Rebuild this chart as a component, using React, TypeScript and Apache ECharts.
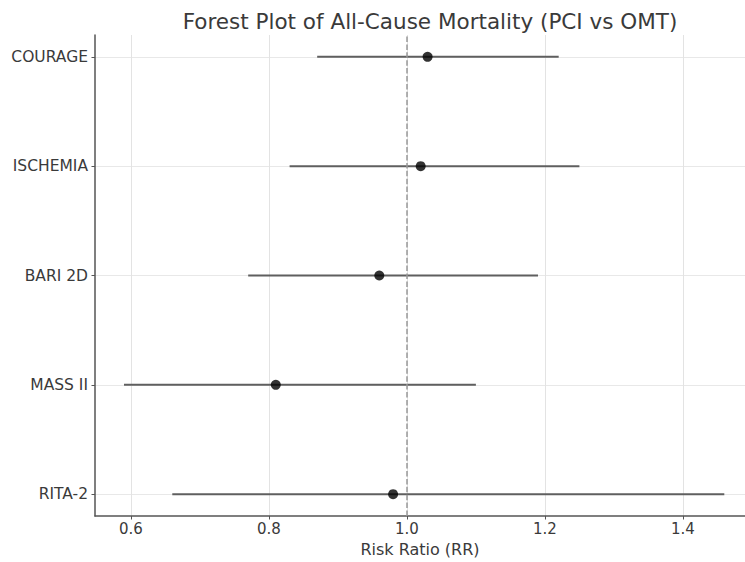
import React, { useEffect, useRef } from "react";
import * as echarts from "echarts";

// Studies listed top to bottom as in the plot
const studies = ["COURAGE", "ISCHEMIA", "BARI 2D", "MASS II", "RITA-2"];
const riskRatio = [1.03, 1.02, 0.96, 0.81, 0.98];
const ciLower = [0.87, 0.83, 0.77, 0.59, 0.66];
const ciUpper = [1.22, 1.25, 1.19, 1.1, 1.46];
const xTicks = [0.6, 0.8, 1.0, 1.2, 1.4];
const yTicks = [0, 1, 2, 3, 4];

const FONT = "'DejaVu Sans', sans-serif";

export default function App() {
  const ref = useRef<HTMLDivElement>(null);
  useEffect(() => {
    if (!ref.current) return;
    const chart = echarts.init(ref.current, undefined, { renderer: "svg" });
    const n = studies.length;
    const pos = (i: number) => n - 1 - i;
    const errData = studies.map((_, i) => [ciLower[i], ciUpper[i], pos(i)]);
    const ptData = studies.map((_, i) => [riskRatio[i], pos(i)]);
    chart.setOption({
      animation: false,
      backgroundColor: "#ffffff",
      title: {
        text: "Forest Plot of All-Cause Mortality (PCI vs OMT)",
        left: 425,
        top: 5,
        textAlign: "center",
        textStyle: { fontFamily: FONT, fontSize: 21.5, fontWeight: "normal", color: "#3a3a3a" },
      },
      grid: { left: 95, right: 0, top: 35, bottom: 42, containLabel: false },
      xAxis: {
        type: "value",
        min: 0.548,
        max: 1.49,
        name: "Risk Ratio (RR)",
        nameLocation: "middle",
        nameGap: 25,
        nameTextStyle: { fontFamily: FONT, fontSize: 16, color: "#3a3a3a" },
        axisLine: { show: true, onZero: false, lineStyle: { color: "#555", width: 1.5 } },
        axisTick: { show: true, customValues: xTicks, length: 3.5, lineStyle: { color: "#555" } },
        axisLabel: {
          customValues: xTicks,
          formatter: (v: number) => v.toFixed(1),
          fontFamily: FONT,
          fontSize: 15,
          color: "#3a3a3a",
          margin: 5,
        },
        splitLine: { show: true, lineStyle: { color: "#e3e3e3", width: 1 } },
      },
      yAxis: {
        type: "value",
        min: -0.2,
        max: 4.2,
        axisLine: { show: true, onZero: false, lineStyle: { color: "#555", width: 1.5 } },
        axisTick: { show: true, customValues: yTicks, length: 3.5, lineStyle: { color: "#555" } },
        axisLabel: {
          customValues: yTicks,
          formatter: (v: number) => studies[n - 1 - Math.round(v)] ?? "",
          fontFamily: FONT,
          fontSize: 15.5,
          color: "#3a3a3a",
          margin: 7,
        },
        splitLine: { show: true, lineStyle: { color: "#e8e8e8", width: 1 } },
      },
      series: [
        {
          type: "custom",
          data: errData,
          encode: { x: [0, 1], y: 2 },
          z: 2,
          renderItem: (params: any, api: any) => {
            const a = api.coord([api.value(0), api.value(2)]);
            const b = api.coord([api.value(1), api.value(2)]);
            return {
              type: "line",
              shape: { x1: a[0], y1: a[1], x2: b[0], y2: b[1] },
              style: { stroke: "#5f5f5f", lineWidth: 2 },
            };
          },
        },
        {
          type: "scatter",
          data: ptData,
          symbol: "circle",
          symbolSize: 10,
          itemStyle: { color: "#000" },
          z: 3,
          markLine: {
            silent: true,
            symbol: "none",
            label: { show: false },
            lineStyle: { color: "#999", type: [5.5, 2.4], width: 1.5 },
            data: [{ xAxis: 1.0 }],
          },
        },
      ],
    });
    return () => chart.dispose();
  }, []);
  return (
    <div
      ref={ref}
      style={{ position: "fixed", left: 0, top: 0, width: 745, height: 562 }}
    />
  );
}
